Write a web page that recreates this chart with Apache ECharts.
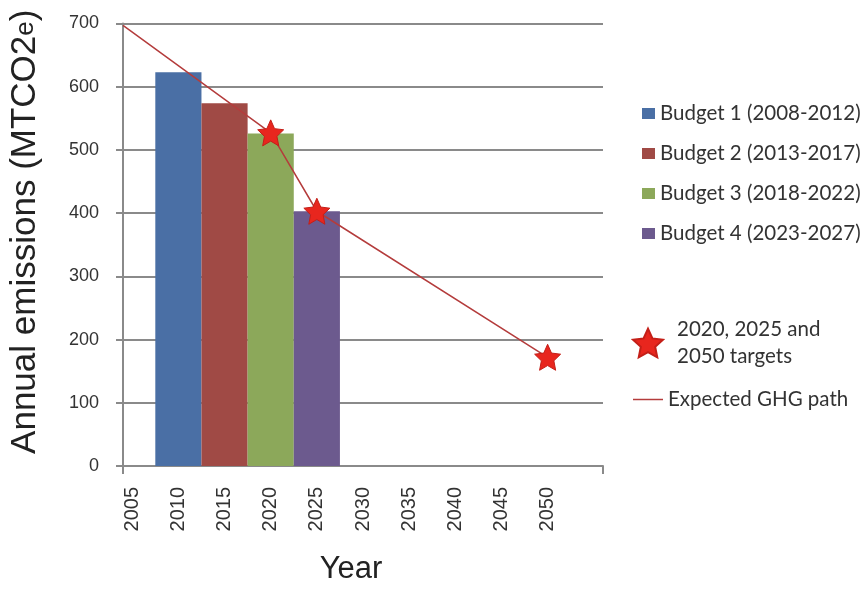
<!DOCTYPE html>
<html>
<head>
<meta charset="utf-8">
<script src="https://cdn.jsdelivr.net/npm/echarts@6/dist/echarts.min.js"></script>
<style>
html,body{margin:0;padding:0;background:#fff;}
#chart{width:868px;height:590px;}
</style>
</head>
<body>
<div id="chart"></div>
<script>
// ---- data ----
const budgetNames = ['Budget 1 (2008-2012)', 'Budget 2 (2013-2017)', 'Budget 3 (2018-2022)', 'Budget 4 (2023-2027)'];
const budgetStart = [2008, 2013, 2018, 2023];
const budgetEnd = [2012, 2017, 2022, 2027];
const budgetValues = [623, 574, 526, 403];
const targetYears = [2020, 2025, 2050];
const targetValues = [527, 403, 172];
const pathYears = [2004, 2020, 2025, 2050];
const pathValues = [697, 527, 403, 172];
const yearTicks = [2005, 2010, 2015, 2020, 2025, 2030, 2035, 2040, 2045, 2050];
const targetName = '2020, 2025 and\n2050 targets';
const pathName = 'Expected GHG path';

// ---- styles ----
const budgetColors = ['#4a6fa5', '#a04a45', '#8ca85a', '#6c5a8e'];
const starPath = 'path://M50 0 L64.11 30.58 L97.55 34.55 L72.83 57.42 L79.39 90.45 L50 74 L20.61 90.45 L27.17 57.42 L2.45 34.55 L35.89 30.58 Z';
const linePath = 'path://M0 0 L100 0 L100 5 L0 5 Z';
const gridGray = '#8a8a8a';
const textGray = '#333333';

const chart = echarts.init(document.getElementById('chart'));

const budgetSeries = budgetNames.map((name, i) => ({
  name: name,
  type: 'custom',
  itemStyle: { color: budgetColors[i] },
  data: [[budgetStart[i] - 0.5, budgetEnd[i] + 0.5, budgetValues[i]]],
  encode: { x: [0, 1], y: 2 },
  renderItem: function (params, api) {
    const p0 = api.coord([api.value(0), api.value(2)]);
    const p1 = api.coord([api.value(1), 0]);
    return {
      type: 'rect',
      shape: { x: p0[0], y: p0[1], width: p1[0] - p0[0], height: p1[1] - p0[1] },
      style: api.style()
    };
  },
  z: 2
}));

const option = {
  backgroundColor: '#ffffff',
  animation: false,
  grid: { left: 117.5, right: 265, top: 23.5, bottom: 113.5, containLabel: false },
  xAxis: {
    type: 'value',
    min: 2004,
    max: 2056,
    name: 'Year',
    nameLocation: 'middle',
    nameGap: 88,
    nameTextStyle: { fontFamily: 'Liberation Sans', fontSize: 31, color: '#222', padding: [0, 24, 0, 0] },
    axisLine: { show: true, lineStyle: { color: gridGray, width: 2 } },
    axisTick: { show: true, customValues: [2004, 2056], length: 8, lineStyle: { color: gridGray, width: 2 } },
    axisLabel: {
      customValues: yearTicks,
      rotate: 90,
      margin: 21,
      fontFamily: 'Liberation Sans',
      fontSize: 20,
      color: textGray,
      formatter: function (v) { return String(v); }
    },
    splitLine: { show: false }
  },
  yAxis: {
    type: 'value',
    min: 0,
    max: 700,
    interval: 100,
    name: '{a|Annual emissions (MTCO2}{b|e}{a|)}',
    nameLocation: 'middle',
    nameGap: 80,
    nameTextStyle: {
      padding: [0, 0, 0, 26],
      rich: {
        a: { fontFamily: 'Liberation Sans', fontSize: 35, color: '#222' },
        b: { fontFamily: 'Liberation Sans', fontSize: 26, color: '#222' }
      }
    },
    axisLine: { show: true, lineStyle: { color: gridGray, width: 2 } },
    axisTick: { show: true, length: 7, lineStyle: { color: gridGray, width: 2 } },
    axisLabel: { margin: 24, fontFamily: 'Liberation Sans', fontSize: 18, color: textGray },
    splitLine: { show: true, lineStyle: { color: gridGray, width: 2 } }
  },
  legend: [
    {
      data: budgetNames,
      orient: 'vertical',
      left: 642,
      top: 103,
      padding: 0,
      itemWidth: 13,
      itemHeight: 11,
      itemGap: 19,
      icon: 'rect',
      textStyle: { fontFamily: 'Lato', fontSize: 20.5, color: textGray }
    },
    {
      data: [{ name: targetName, icon: starPath }],
      orient: 'vertical',
      left: 632,
      top: 316,
      padding: 0,
      itemWidth: 30,
      itemHeight: 30,
      textStyle: { fontFamily: 'Lato', fontSize: 20.5, lineHeight: 27, color: textGray, padding: [0, 0, 0, 9] }
    },
    {
      data: [{ name: pathName, icon: linePath }],
      orient: 'vertical',
      left: 633,
      top: 389,
      padding: 0,
      itemWidth: 30,
      itemHeight: 1.6,
      textStyle: { fontFamily: 'Lato', fontSize: 20.5, color: textGray }
    }
  ],
  series: budgetSeries.concat([
    {
      name: pathName,
      type: 'line',
      data: pathYears.map((y, i) => [y, pathValues[i]]),
      symbol: 'none',
      lineStyle: { color: '#b43c3c', width: 1.5 },
      itemStyle: { color: '#b43c3c' },
      z: 3
    },
    {
      name: targetName,
      type: 'scatter',
      data: targetYears.map((y, i) => [y, targetValues[i]]),
      symbol: starPath,
      symbolSize: 26,
      itemStyle: { color: '#e8261e', borderColor: '#c41f18', borderWidth: 1, opacity: 1 },
      z: 4
    }
  ])
};

chart.setOption(option);
</script>
</body>
</html>
